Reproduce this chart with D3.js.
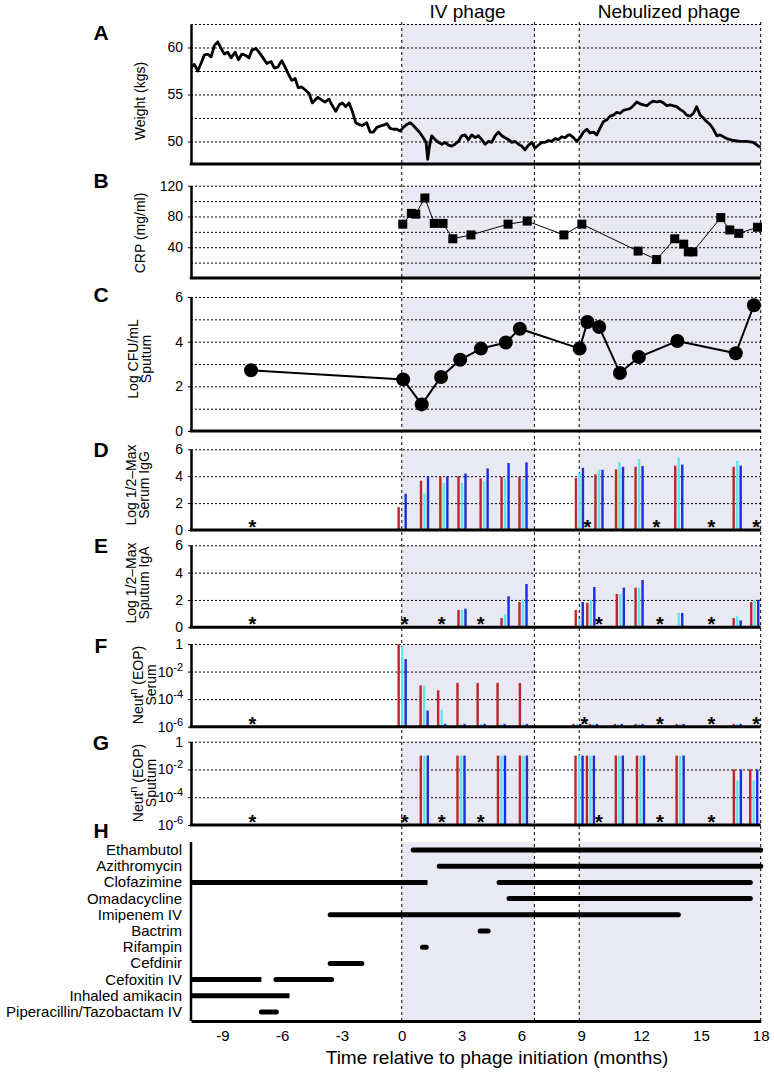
<!DOCTYPE html>
<html>
<head>
  <meta charset="utf-8">
  <title>Phage timeline</title>
  <script src="https://d3js.org/d3.v7.min.js"></script>
  <style>
    body { margin: 0; background: #fff; }
    text { font-family: "Liberation Sans", Arial, sans-serif; fill: #000; }
    .grid line { stroke: #000; stroke-width: 1; stroke-dasharray: 2,2; }
    .grid .domain { stroke: none; }
    .yaxis .domain { stroke: #000; stroke-width: 2.5; }
    .yaxis line { stroke: #000; }
    .yaxis text { font-size: 14px; }
    .xaxis .domain { stroke: #000; stroke-width: 3; }
    .xaxis text { font-size: 15px; }
  </style>
</head>
<body>
<div id="chart"></div>
<script>
// ---- data ----
const phaseSpans = [[0, 6.65], [8.9, 18]];
const phaseNames = ["IV phage", "Nebulized phage"];

// A: weight (month, kg)
const weight = [[-10.57,57.9],[-10.40,58.2],[-10.23,57.5],[-10.07,58.3],[-9.90,59.2],[-9.73,59.3],[-9.56,59.0],[-9.40,60.2],[-9.23,60.6],[-9.06,59.9],[-8.90,59.3],[-8.73,59.5],[-8.56,58.9],[-8.36,59.5],[-8.19,58.7],[-8.02,59.3],[-7.86,59.2],[-7.66,58.9],[-7.52,59.7],[-7.32,59.9],[-7.16,59.5],[-6.99,59.0],[-6.77,58.3],[-6.55,58.5],[-6.39,57.8],[-6.22,57.9],[-6.02,58.6],[-5.85,57.9],[-5.69,57.2],[-5.52,56.5],[-5.35,56.7],[-5.19,55.7],[-5.02,55.8],[-4.85,55.5],[-4.65,55.1],[-4.48,54.1],[-4.35,54.4],[-4.21,54.7],[-4.01,54.4],[-3.85,54.2],[-3.65,54.5],[-3.51,53.9],[-3.31,53.2],[-3.14,53.9],[-2.98,54.1],[-2.81,53.7],[-2.64,54.1],[-2.48,53.2],[-2.31,52.0],[-2.14,51.8],[-1.98,51.7],[-1.76,52.0],[-1.59,51.0],[-1.42,51.0],[-1.25,51.5],[-1.00,51.7],[-0.84,51.8],[-0.75,51.9],[-0.59,51.4],[-0.42,51.3],[-0.25,51.3],[-0.09,51.1],[0.08,51.5],[0.25,51.8],[0.42,52.0],[0.58,51.7],[0.75,51.3],[0.92,50.9],[1.08,50.4],[1.22,49.9],[1.30,48.1],[1.39,49.5],[1.50,50.6],[1.67,50.2],[1.84,49.9],[2.01,49.7],[2.17,49.9],[2.34,49.6],[2.51,49.5],[2.67,49.7],[2.84,50.0],[3.01,50.6],[3.17,50.7],[3.34,50.2],[3.51,50.7],[3.68,50.4],[3.84,50.6],[4.01,50.2],[4.18,49.7],[4.34,50.0],[4.51,49.9],[4.68,50.6],[4.84,51.0],[5.02,50.6],[5.18,50.4],[5.35,50.2],[5.52,49.9],[5.68,50.0],[5.85,49.7],[6.02,49.5],[6.18,49.1],[6.35,49.6],[6.52,49.9],[6.68,49.3],[6.85,49.6],[7.02,49.9],[7.19,49.9],[7.35,50.1],[7.52,50.0],[7.69,50.3],[7.85,50.2],[8.02,50.5],[8.19,50.4],[8.36,50.7],[8.44,50.7],[8.61,50.4],[8.78,50.0],[8.94,50.4],[9.11,51.0],[9.28,51.3],[9.44,50.9],[9.61,51.0],[9.78,50.7],[9.94,51.4],[10.11,52.1],[10.28,52.3],[10.45,52.7],[10.61,52.8],[10.78,53.1],[10.95,53.0],[11.11,53.3],[11.28,53.4],[11.45,53.5],[11.61,53.8],[11.79,54.2],[11.95,54.0],[12.12,53.9],[12.29,53.8],[12.45,54.1],[12.62,54.3],[12.79,54.2],[12.95,54.3],[13.12,54.1],[13.29,53.8],[13.46,53.9],[13.62,53.8],[13.79,53.7],[13.96,53.4],[14.12,53.2],[14.29,52.8],[14.46,52.7],[14.63,53.0],[14.79,53.7],[14.96,52.8],[15.13,52.5],[15.30,52.1],[15.46,51.8],[15.63,51.3],[15.80,50.6],[15.96,50.7],[16.13,50.5],[16.30,50.3],[16.63,50.1],[16.97,50.0],[17.30,50.0],[17.63,49.9],[17.88,49.5],[18.0,49.4]];

// B: CRP
const crpMonth = [0.05, 0.48, 0.70, 1.16, 1.63, 2.07, 2.56, 3.47, 5.33, 6.29, 8.13, 9.03, 11.85, 12.78, 13.69, 14.14, 14.37, 14.6, 16.0, 16.45, 16.9, 17.84];
const crpValue = [70, 84, 83, 104, 71, 71, 51, 56, 70, 74, 56, 70, 35, 24, 51, 44, 34, 34, 78.5, 62.5, 58, 66];

// C: log CFU/mL sputum
const cfuMonth = [-7.56, 0.07, 1.0, 1.97, 2.93, 3.97, 5.22, 5.92, 8.92, 9.31, 9.9, 10.94, 11.89, 13.82, 16.75, 17.66];
const cfuValue = [2.72, 2.31, 1.19, 2.42, 3.19, 3.69, 3.96, 4.58, 3.69, 4.88, 4.66, 2.60, 3.31, 4.03, 3.48, 5.63];

// bar colours, one per phage series
const seriesColors = ["#c0242b", "#5ee6f0", "#1b2fd6"];

// D: serum IgG (log 1/2-max)
const igGMonth = [0.02, 1.14, 2.11, 3.02, 4.13, 5.18, 6.08, 8.91, 9.89, 10.92, 11.9, 13.89, 16.82];
const igGRed   = [1.7, 3.67, 3.96, 4.0, 3.84, 3.94, 3.94, 3.87, 4.14, 4.51, 4.7, 4.78, 4.7];
const igGCyan  = [0.1, 2.73, 3.5, 3.5, 3.6, 3.82, 3.8, 4.26, 4.48, 5.05, 5.28, 5.4, 5.15];
const igGBlue  = [2.7, 4.0, 4.0, 4.2, 4.58, 4.98, 5.03, 4.63, 4.48, 4.7, 4.76, 4.86, 4.78];
const igGStars = [-7.49, 9.31, 12.77, 15.53, 17.77];

// E: sputum IgA (log 1/2-max)
const igAMonth = [1.14, 3.02, 5.18, 6.08, 8.9, 9.48, 10.96, 11.9, 13.89, 16.82, 17.7];
const igARed   = [0.05, 1.27, 0.68, 1.85, 1.27, 1.78, 2.44, 2.9, 0.05, 0.68, 1.85];
const igACyan  = [0.05, 1.27, 0.97, 2.05, 0.6, 2.0, 2.44, 2.9, 1.07, 0.83, 2.02];
const igABlue  = [0.08, 1.36, 2.27, 3.17, 1.85, 2.95, 2.9, 3.46, 1.05, 0.51, 2.02];
const igAStars = [-7.49, 0.15, 2.0, 3.96, 9.89, 12.94, 15.53];

// F: serum neutralization (EOP)
const serMonth = [0.02, 1.12, 2.0, 2.97, 3.98, 4.98, 6.1, 8.78, 9.61, 10.86, 11.9, 13.96, 16.82];
const serRed   = [1, 1e-3, 4.4e-4, 1.5e-3, 1.5e-3, 1.5e-3, 1.5e-3, 1.6e-6, 1.6e-6, 1.6e-6, 1.6e-6, 1.6e-6, 1.6e-6];
const serCyan  = [0.6, 1e-3, 1.7e-5, 1.6e-6, 1.6e-6, 1.6e-6, 1.6e-6, 1.6e-6, 1.6e-6, 1.6e-6, 1.6e-6, 1.6e-6, 1.6e-6];
const serBlue  = [0.08, 1.5e-5, 1.6e-6, 1.6e-6, 1.6e-6, 1.6e-6, 1.6e-6, 1.6e-6, 1.6e-6, 1.6e-6, 1.6e-6, 1.6e-6, 1.6e-6];
const serStars = [-7.49, 9.16, 12.95, 15.53, 17.77];

// G: sputum neutralization (EOP)
const sptMonth = [1.13, 2.97, 5.0, 6.1, 8.89, 9.46, 10.91, 11.97, 13.96, 16.83, 17.65];
const sptRed   = [0.1, 0.1, 0.1, 0.1, 0.1, 0.1, 0.1, 0.1, 0.1, 0.01, 0.01];
const sptCyan  = [0.1, 0.1, 0.1, 0.1, 0.11, 0.1, 0.1, 0.1, 0.1, 0.0016, 0.0016];
const sptBlue  = [0.1, 0.1, 0.1, 0.1, 0.1, 0.1, 0.1, 0.1, 0.1, 0.01, 0.01];
const sptStars = [-7.49, 0.15, 2.0, 3.96, 9.89, 12.94, 15.53];

// H: antibiotics, each with one or more [start, end] spans
const drugNames = ["Ethambutol", "Azithromycin", "Clofazimine", "Omadacycline", "Imipenem IV", "Bactrim", "Rifampin", "Cefdinir", "Cefoxitin IV", "Inhaled amikacin", "Piperacillin/Tazobactam IV"];
const drugSpans = [
  [[0.57, 18]],
  [[1.88, 18]],
  [[-10.57, 1.29], [4.88, 17.48]],
  [[5.38, 17.48]],
  [[-3.59, 13.87]],
  [[3.93, 4.33]],
  [[1.04, 1.23]],
  [[-3.59, -2.0]],
  [[-10.57, -7.04], [-6.31, -3.52]],
  [[-10.57, -5.63]],
  [[-7.04, -6.29]]
];

const xTicks = [-9, -6, -3, 0, 3, 6, 9, 12, 15, 18];

// ---- layout ----
const width = 774, height = 1072;
const svg = d3.select("#chart").append("svg")
  .attr("width", width).attr("height", height);

const x = d3.scaleLinear().domain([-10.57, 18]).range([191, 760.7]);
const left = x.range()[0], right = x.range()[1];

// panel vertical extents [top, bottom]
const panels = {
  A: [24, 164], B: [185.7, 278], C: [297, 431], D: [449.3, 530],
  E: [545.3, 627.3], F: [644, 726.7], G: [741.7, 825], H: [842, 1021]
};

const bg = svg.append("g");
const gridG = svg.append("g");
const dataG = svg.append("g");
const axisG = svg.append("g");
const starG = svg.append("g");

// shaded phage periods in every panel
Object.values(panels).forEach(([t, b]) => {
  phaseSpans.forEach(s => {
    bg.append("rect")
      .attr("x", x(s[0])).attr("y", t)
      .attr("width", x(s[1]) - x(s[0])).attr("height", b - t)
      .attr("fill", "#e9e9f3");
  });
});

// helper: gridlines + left axis for a panel
function yFrame(y, gridVals, tickVals, fmt) {
  gridG.append("g").attr("class", "grid")
    .attr("transform", `translate(${left},0)`)
    .call(d3.axisRight(y).tickValues(gridVals).tickSize(right - left).tickFormat(""));
  const ax = axisG.append("g").attr("class", "yaxis")
    .attr("transform", `translate(${left},0)`)
    .call(d3.axisLeft(y).tickValues(tickVals).tickSize(3).tickPadding(5).tickSizeOuter(0).tickFormat(fmt || (d => String(d))));
  return ax;
}
function bottomLine(yPos) {
  axisG.append("line")
    .attr("x1", left - 1.25).attr("x2", right).attr("y1", yPos).attr("y2", yPos)
    .attr("stroke", "#000").attr("stroke-width", 3);
}

// ---- A: weight ----
const yA = d3.scaleLinear().domain([47.6, 62.5]).range(panels.A.slice().reverse());
yFrame(yA, [50, 52.5, 55, 57.5, 60, 62.5], [50, 55, 60]);
bottomLine(panels.A[1]);
dataG.append("path")
  .datum(weight)
  .attr("d", d3.line().x(d => x(d[0])).y(d => yA(d[1])))
  .attr("fill", "none").attr("stroke", "#000").attr("stroke-width", 2.8)
  .attr("stroke-linejoin", "round");

// ---- B: CRP ----
const yB = d3.scaleLinear().domain([0, 120]).range(panels.B.slice().reverse());
yFrame(yB, [20, 40, 60, 80, 100, 120], [40, 80, 120]);
bottomLine(panels.B[1]);
const crp = crpMonth.map((m, i) => [m, crpValue[i]]);
dataG.append("path").datum(crp)
  .attr("d", d3.line().x(d => x(d[0])).y(d => yB(d[1])))
  .attr("fill", "none").attr("stroke", "#000").attr("stroke-width", 1);
crp.forEach(d => {
  dataG.append("rect")
    .attr("x", x(d[0]) - 4.5).attr("y", yB(d[1]) - 4.5)
    .attr("width", 9).attr("height", 9).attr("fill", "#000");
});

// ---- C: CFU ----
const yC = d3.scaleLinear().domain([0, 6]).range(panels.C.slice().reverse());
yFrame(yC, [1, 2, 3, 4, 5, 6], [0, 2, 4, 6]);
bottomLine(panels.C[1]);
const cfu = cfuMonth.map((m, i) => [m, cfuValue[i]]);
dataG.append("path").datum(cfu)
  .attr("d", d3.line().x(d => x(d[0])).y(d => yC(d[1])))
  .attr("fill", "none").attr("stroke", "#000").attr("stroke-width", 2);
cfu.forEach(d => {
  dataG.append("circle").attr("cx", x(d[0])).attr("cy", yC(d[1]))
    .attr("r", 7).attr("fill", "#000");
});

// ---- bar panels D-G ----
function bars(y, months, series, base) {
  const off = [-3.5, 0, 3.5];
  months.forEach((m, i) => {
    series.forEach((s, k) => {
      const top = y(s[i]);
      dataG.append("rect")
        .attr("x", x(m) + off[k] - 1.2).attr("y", top)
        .attr("width", 2.4).attr("height", Math.max(0, y(base) - top))
        .attr("fill", seriesColors[k]);
    });
  });
}
// asterisks mark time points with no sample
function stars(months, yBase) {
  months.forEach(m => {
    starG.append("text").attr("x", x(m)).attr("y", yBase + 4)
      .attr("text-anchor", "middle").style("font-size", "20px").style("font-weight", "bold")
      .text("*");
  });
}
function powFormat(axis) {
  axis.selectAll(".tick text").each(function(d) {
    const t = d3.select(this).text("");
    if (d === 1) { t.text("1"); return; }
    t.append("tspan").text("10");
    t.append("tspan").attr("dy", -6).style("font-size", "11px").text(Math.round(Math.log10(d)));
  });
}

const yD = d3.scaleLinear().domain([0, 6]).range(panels.D.slice().reverse());
yFrame(yD, [2, 4, 6], [0, 2, 4, 6]);
bottomLine(panels.D[1]);
bars(yD, igGMonth, [igGRed, igGCyan, igGBlue], 0);
stars(igGStars, panels.D[1]);

const yE = d3.scaleLinear().domain([0, 6]).range(panels.E.slice().reverse());
yFrame(yE, [2, 4, 6], [0, 2, 4, 6]);
bottomLine(panels.E[1]);
bars(yE, igAMonth, [igARed, igACyan, igABlue], 0);
stars(igAStars, panels.E[1]);

const yF = d3.scaleLog().domain([1e-6, 1]).range(panels.F.slice().reverse());
powFormat(yFrame(yF, [1e-4, 1e-2, 1], [1e-6, 1e-4, 1e-2, 1], () => ""));
bottomLine(panels.F[1]);
bars(yF, serMonth, [serRed, serCyan, serBlue], 1e-6);
stars(serStars, panels.F[1]);

const yG = d3.scaleLog().domain([1e-6, 1]).range(panels.G.slice().reverse());
powFormat(yFrame(yG, [1e-4, 1e-2, 1], [1e-6, 1e-4, 1e-2, 1], () => ""));
bottomLine(panels.G[1]);
bars(yG, sptMonth, [sptRed, sptCyan, sptBlue], 1e-6);
stars(sptStars, panels.G[1]);

// ---- H: drugs ----
const yH = d3.scalePoint().domain(drugNames).range([850, 1012]);
drugNames.forEach((name, i) => {
  drugSpans[i].forEach(s => {
    dataG.append("line")
      .attr("x1", x(s[0])).attr("x2", x(s[1]))
      .attr("y1", yH(name)).attr("y2", yH(name))
      .attr("stroke", "#000").attr("stroke-width", 5)
      .attr("stroke-linecap", s[0] <= -10.5 ? "butt" : "round");
  });
  axisG.append("text").attr("x", 182).attr("y", yH(name) + 5)
    .attr("text-anchor", "end").style("font-size", "15px").text(name);
});
axisG.append("line").attr("x1", left).attr("x2", left)
  .attr("y1", panels.H[0]).attr("y2", panels.H[1])
  .attr("stroke", "#000").attr("stroke-width", 2.5);
axisG.append("g").attr("class", "xaxis")
  .attr("transform", `translate(0,${panels.H[1]})`)
  .call(d3.axisBottom(x).tickValues(xTicks).tickSize(0).tickPadding(9).tickFormat(d => String(d)));

// ---- phase boundaries (dashed, full height) ----
const bounds = [phaseSpans[0][0], phaseSpans[0][1], phaseSpans[1][0], phaseSpans[1][1]];
bounds.forEach(b => {
  gridG.append("line")
    .attr("x1", x(b)).attr("x2", x(b)).attr("y1", 22).attr("y2", panels.H[1])
    .attr("stroke", "#000").attr("stroke-width", 1).attr("stroke-dasharray", "3,3");
});

// ---- headings, panel letters, axis titles ----
phaseNames.forEach((n, i) => {
  svg.append("text").attr("x", i === 0 ? x(3.3) : x(13.4)).attr("y", 18)
    .attr("text-anchor", "middle").style("font-size", "19px").text(n);
});

const letters = [["A", 40], ["B", 188], ["C", 302], ["D", 457], ["E", 553], ["F", 653], ["G", 750], ["H", 838]];
letters.forEach(([l, yy]) => {
  svg.append("text").attr("x", 101).attr("y", yy).attr("text-anchor", "middle")
    .style("font-size", "21px").style("font-weight", "bold").text(l);
});

function yTitle(lines, cy, xs) {
  lines.forEach((ln, i) => {
    const t = svg.append("text")
      .attr("transform", `translate(${xs[i]},${cy}) rotate(-90)`)
      .attr("text-anchor", "middle").style("font-size", "14px");
    if (ln === "NEUT") {
      t.append("tspan").text("Neut");
      t.append("tspan").attr("dy", -6).style("font-size", "11px").text("n");
      t.append("tspan").attr("dy", 6).text(" (EOP)");
    } else t.text(ln);
  });
}
yTitle(["Weight (kgs)"], 101, [145]);
yTitle(["CRP (mg/ml)"], 233, [145]);
yTitle(["Log CFU/mL", "Sputum"], 359, [138, 151]);
yTitle(["Log 1/2\u2013Max", "Serum IgG"], 485, [136, 149]);
yTitle(["Log 1/2\u2013Max", "Sputum IgA"], 583, [136, 149]);
yTitle(["NEUT", "Serum"], 685, [143, 156]);
yTitle(["NEUT", "Sputum"], 783, [143, 156]);

svg.append("text").attr("x", 497).attr("y", 1064).attr("text-anchor", "middle")
  .style("font-size", "19px").text("Time relative to phage initiation (months)");
</script>
</body>
</html>
